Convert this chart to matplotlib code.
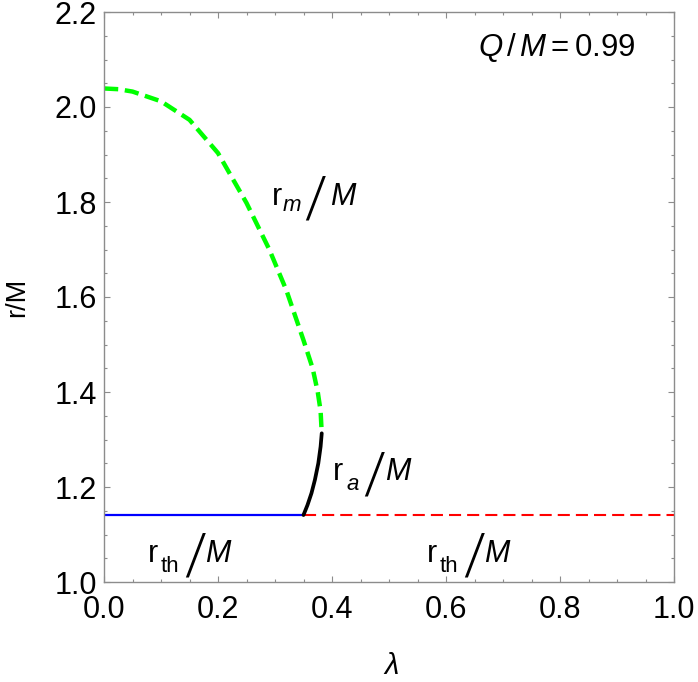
import matplotlib
matplotlib.use("Agg")
import matplotlib.pyplot as plt
from matplotlib.transforms import offset_copy
from matplotlib.ticker import MultipleLocator
from matplotlib import font_manager as fm

# ---- data ----
lam_m = [0.0, 0.025, 0.05, 0.10, 0.15, 0.20, 0.25, 0.29, 0.32, 0.35, 0.366, 0.375, 0.380, 0.382]
r_m = [2.039, 2.0375, 2.0325, 2.012, 1.973, 1.903, 1.798, 1.700, 1.614, 1.509, 1.450, 1.400, 1.360, 1.313]

lam_a = [0.382, 0.380, 0.376, 0.370, 0.364, 0.357, 0.350]
r_a = [1.313, 1.285, 1.250, 1.215, 1.187, 1.162, 1.141]

r_th = 1.141
lam_switch = 0.350
lam_th_left = [0.0, lam_switch]
lam_th_right = [lam_switch, 1.0]

xticks = [0.0, 0.2, 0.4, 0.6, 0.8, 1.0]
yticks = [1.0, 1.2, 1.4, 1.6, 1.8, 2.0, 2.2]
QM_text = r"$Q\,/\,M = 0.99$"

plt.rcParams['font.family'] = ['Liberation Sans', 'DejaVu Sans']
plt.rcParams['mathtext.fontset'] = 'custom'
plt.rcParams['mathtext.rm'] = 'Liberation Sans'
plt.rcParams['mathtext.it'] = 'Liberation Sans:italic'

# find a light-weight font for the tall thin slash
def _w(f):
    w = f.weight
    if isinstance(w, str):
        w = {'thin': 100, 'extralight': 200, 'ultralight': 200, 'light': 300,
             'normal': 400, 'regular': 400, 'book': 400}.get(w.lower(), 400)
    return w

cands = [f for f in fm.fontManager.ttflist
         if f.name in ('Roboto', 'Lato', 'Open Sans', 'Noto Sans', 'DejaVu Sans', 'Inter')
         and f.style == 'normal' and 250 <= _w(f) <= 350 and f.stretch == 'normal']
order = ['Roboto', 'Open Sans', 'Lato', 'Noto Sans', 'Inter', 'DejaVu Sans']
cands.sort(key=lambda f: order.index(f.name))
slash_fp = (fm.FontProperties(fname=cands[0].fname, size=41) if cands
            else fm.FontProperties(family='Liberation Sans', size=36))

W, H = 698, 682
fig = plt.figure(figsize=(W / 100, H / 100), dpi=100)
ax = fig.add_axes([104 / W, 100 / H, 570 / W, 570 / H])

ax.plot(lam_th_left, [r_th, r_th], color='#0000FF', lw=1.6, solid_capstyle='butt')
ax.plot(lam_th_right, [r_th, r_th], color='#FF0000', lw=1.5, dashes=(5.8, 2.9))
ax.plot(lam_m, r_m, color='#00FF00', lw=3.2, dashes=(3.2, 1.5), dash_joinstyle='round')
ax.plot(lam_a, r_a, color='black', lw=2.7, solid_capstyle='round', solid_joinstyle='round')

ax.set_xlim(0, 1)
ax.set_ylim(1.0, 2.2)
ax.set_xticks(xticks)
ax.set_yticks(yticks)
ax.set_xticklabels([f"{v:.1f}" for v in xticks])
ax.set_yticklabels([f"{v:.1f}" for v in yticks])
ax.xaxis.set_minor_locator(MultipleLocator(0.05))
ax.yaxis.set_minor_locator(MultipleLocator(0.05))
gray = '#8c8c8c'
for sp in ax.spines.values():
    sp.set_color(gray)
    sp.set_linewidth(1.0)
ax.tick_params(which='both', direction='in', top=True, right=True, color=gray, width=0.8)
ax.tick_params(which='major', length=4.0, labelsize=22)
ax.tick_params(which='minor', length=2.3)
ax.tick_params(axis='x', which='major', pad=9)
ax.tick_params(axis='y', which='major', pad=5)

fig.text(17 / W, 1 - 297 / H, 'r/M', rotation=90, ha='center', va='center', fontsize=19.5)
fig.text(392 / W, 1 - 666 / H, 'λ', ha='center', va='center', fontsize=21, style='italic')

PX = 0.72  # pixels -> points at dpi 100


def ratio_label(x, y, sub, sub_style, sub_dx, sub_dy, sl_dx, sl_dy, m_dx):
    ax.text(x, y, 'r', fontsize=22, ha='left', va='baseline')
    t1 = offset_copy(ax.transData, fig=fig, x=sub_dx * PX, y=-sub_dy * PX, units='points')
    ax.text(x, y, sub, fontsize=16, style=sub_style, ha='left', va='baseline', transform=t1)
    t2 = offset_copy(ax.transData, fig=fig, x=sl_dx * PX, y=-sl_dy * PX, units='points')
    ax.text(x, y, '/', fontproperties=slash_fp, ha='left', va='baseline', transform=t2)
    t3 = offset_copy(ax.transData, fig=fig, x=m_dx * PX, y=0, units='points')
    ax.text(x, y, 'M', fontsize=22, style='italic', ha='left', va='baseline', transform=t3)


ratio_label(0.2947, 1.7937, 'm', 'italic', 11, 6, 32, 12, 58)
ratio_label(0.4018, 1.2147, 'a', 'italic', 13, 10, 30, 12, 52)
ratio_label(0.0772, 1.0421, 'th', 'normal', 13, 10, 36, 11, 57)
ratio_label(0.5667, 1.0421, 'th', 'normal', 13, 10, 36, 11, 57)

ax.text(557 / W, 1 - 48 / H, QM_text, fontsize=22.5, ha='center', va='center', transform=fig.transFigure)

fig.savefig('out.png', dpi=100)
